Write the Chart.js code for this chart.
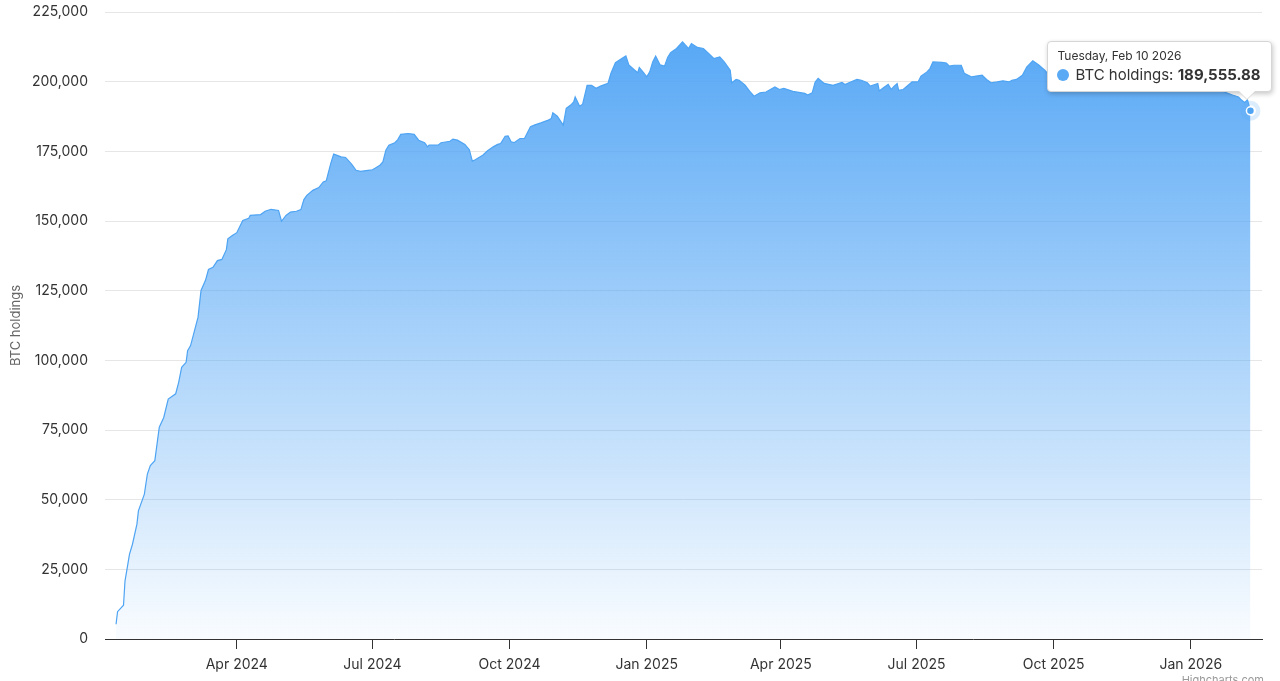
<!DOCTYPE html>
<html>
<head>
<meta charset="utf-8">
<script src="https://cdn.jsdelivr.net/npm/chart.js@4.4.1/dist/chart.umd.min.js"></script>
<style>
  html, body { margin: 0; padding: 0; background: #fff; }
  #wrap { position: relative; width: 1280px; height: 681px; overflow: hidden; }
  #tip {
    position: absolute; display: none; background: #fff; color: #333;
    border: 1px solid #d6d6d6; border-radius: 4px;
    box-shadow: 1px 2px 5px rgba(0,0,0,0.22);
    padding: 6px 10px 7px 9px; font-family: Inter, sans-serif; white-space: nowrap;
  }
  #tip .t { font-size: 12px; line-height: 16px; }
  #tip .b { font-size: 15px; line-height: 19px; margin-top: 1px; }
  #tip .dot { display: inline-block; width: 12px; height: 12px; border-radius: 50%;
    background: #5aa9f5; vertical-align: -1px; margin-right: 6px; }
  #tip::before { content: ''; position: absolute; right: 15px; bottom: -9px;
    border-left: 9px solid transparent; border-right: 9px solid transparent; border-top: 9px solid #d6d6d6; }
  #tip::after { content: ''; position: absolute; right: 16px; bottom: -8px;
    border-left: 8px solid transparent; border-right: 8px solid transparent; border-top: 8px solid #fff; }
  #credit { position: absolute; right: 16px; top: 673px; font: 11px Inter, sans-serif; color: #999; }
</style>
</head>
<body>
<div id="wrap">
  <canvas id="chart" width="1280" height="681"></canvas>
  <div id="tip"></div>
  <div id="credit">Highcharts.com</div>
</div>
<script>
// BTC holdings by date
const dates = [
  '2024-01-11','2024-01-12','2024-01-16','2024-01-17','2024-01-20','2024-01-22','2024-01-25','2024-01-26','2024-01-30',
  '2024-02-01','2024-02-03','2024-02-06','2024-02-09','2024-02-12','2024-02-15','2024-02-20','2024-02-22','2024-02-24','2024-02-27','2024-02-28',
  '2024-03-01','2024-03-06','2024-03-08','2024-03-11','2024-03-13','2024-03-16','2024-03-19','2024-03-22','2024-03-25','2024-03-26','2024-03-29',
  '2024-04-01','2024-04-05','2024-04-09','2024-04-10','2024-04-17','2024-04-20','2024-04-24','2024-04-29',
  '2024-05-01','2024-05-04','2024-05-07','2024-05-11','2024-05-14','2024-05-16','2024-05-18','2024-05-22','2024-05-26','2024-05-29','2024-05-31',
  '2024-06-03','2024-06-05','2024-06-10','2024-06-13','2024-06-17','2024-06-20','2024-06-23','2024-06-28',
  '2024-07-01','2024-07-03','2024-07-06','2024-07-08','2024-07-10','2024-07-12','2024-07-16','2024-07-18','2024-07-20','2024-07-25','2024-07-29',
  '2024-08-01','2024-08-05','2024-08-07','2024-08-08','2024-08-14','2024-08-16','2024-08-22','2024-08-24','2024-08-27',
  '2024-09-01','2024-09-04','2024-09-06','2024-09-08','2024-09-11','2024-09-13','2024-09-16','2024-09-20','2024-09-23','2024-09-25','2024-09-28','2024-09-30',
  '2024-10-02','2024-10-04','2024-10-08','2024-10-11','2024-10-15','2024-10-18','2024-10-22','2024-10-27','2024-10-29','2024-10-30',
  '2024-11-02','2024-11-06','2024-11-08','2024-11-11','2024-11-13','2024-11-14','2024-11-17','2024-11-19','2024-11-22','2024-11-25','2024-11-28',
  '2024-12-01','2024-12-06','2024-12-08','2024-12-11','2024-12-15','2024-12-18','2024-12-20','2024-12-24','2024-12-26','2024-12-27','2024-12-30',
  '2025-01-01','2025-01-03','2025-01-05','2025-01-07','2025-01-10','2025-01-13','2025-01-15','2025-01-17','2025-01-21','2025-01-25','2025-01-29','2025-01-31',
  '2025-02-04','2025-02-08','2025-02-11','2025-02-15','2025-02-19','2025-02-22','2025-02-26','2025-02-27',
  '2025-03-02','2025-03-04','2025-03-08','2025-03-11','2025-03-14','2025-03-18','2025-03-22','2025-03-28','2025-03-31',
  '2025-04-03','2025-04-09','2025-04-17','2025-04-19','2025-04-22','2025-04-24','2025-04-26','2025-04-30',
  '2025-05-06','2025-05-12','2025-05-14','2025-05-17','2025-05-22','2025-05-25','2025-05-29','2025-05-31',
  '2025-06-03','2025-06-05','2025-06-06','2025-06-09','2025-06-12','2025-06-14','2025-06-16','2025-06-18','2025-06-19','2025-06-22','2025-06-24','2025-06-28',
  '2025-07-02','2025-07-04','2025-07-08','2025-07-10','2025-07-12','2025-07-18','2025-07-21','2025-07-23','2025-07-26','2025-07-31',
  '2025-08-02','2025-08-07','2025-08-10','2025-08-14','2025-08-17','2025-08-20','2025-08-24','2025-08-28',
  '2025-09-01','2025-09-03','2025-09-06','2025-09-10','2025-09-13','2025-09-17','2025-09-21','2025-09-25','2025-09-29',
  '2025-10-04','2025-10-10','2025-10-17','2025-10-27','2025-11-06','2025-11-16','2025-11-26','2025-12-06','2025-12-16','2025-12-26',
  '2026-01-05','2026-01-15','2026-01-25','2026-01-29','2026-02-02','2026-02-04','2026-02-06','2026-02-08','2026-02-10'
];
const holdings = [
  5300, 9800, 12100, 20800, 30400, 34000, 41200, 46000, 52000,
  59200, 62200, 64000, 76000, 79500, 86100, 88000, 92100, 97500, 99300, 103500,
  105300, 115500, 125100, 128700, 132600, 133400, 135800, 136200, 139700, 143600, 144800,
  145800, 150200, 151000, 152000, 152300, 153500, 154200, 153800,
  149900, 152000, 153200, 153500, 154100, 157700, 159200, 161000, 162000, 164000, 164400,
  170600, 174000, 173000, 172800, 170400, 168200, 167800, 168200,
  168400, 169000, 170000, 171200, 175400, 177200, 178100, 179200, 181100, 181400, 181100,
  179000, 178100, 176600, 177200, 177200, 178100, 178600, 179400, 179000,
  177500, 175600, 171500, 172000, 173000, 173600, 175100, 176600, 177500, 177800, 180400, 180500,
  178400, 178100, 179600, 179600, 183800, 184500, 185200, 186200, 186800, 188800,
  187600, 184400, 190400, 191600, 192700, 194500, 191200, 191900, 198700, 198700, 197600,
  198400, 199400, 203000, 206800, 208200, 209200, 206000, 204100, 203200, 205100, 203200,
  201700, 203500, 207100, 209200, 206000, 205600, 208700, 210400, 211900, 214300, 211900, 213700,
  212300, 211900, 210400, 208300, 208900, 207100, 204100, 199600,
  200800, 200500, 198700, 196600, 194800, 196000, 196300, 198100, 197200,
  197600, 196500, 195800, 195200, 196000, 199900, 201200, 199400,
  198700, 199700, 199000, 199700, 200800, 200500, 199600, 198400,
  199000, 199300, 196700, 197900, 199000, 197200, 198400, 199300, 196900, 197200, 198100, 199900,
  199900, 202000, 203500, 204700, 207100, 206900, 206700, 205600, 205900, 205900,
  203000, 201700, 202000, 202300, 200800, 199600, 199900, 200300,
  199900, 200500, 200800, 202300, 205300, 207500, 206000, 204100, 201700,
  203000, 205000, 202000, 203500, 200500, 198500, 197500, 198500, 197500, 198000,
  199000, 198000, 196000, 195200, 194500, 193400, 192500, 193500, 189555.88
];

const xTicks = ['2024-04-01', '2024-07-01', '2024-10-01', '2025-01-01', '2025-04-01', '2025-07-01', '2025-10-01', '2026-01-01'];
const xTickLabels = ['Apr 2024', 'Jul 2024', 'Oct 2024', 'Jan 2025', 'Apr 2025', 'Jul 2025', 'Oct 2025', 'Jan 2026'];
const yTicks = [0, 25000, 50000, 75000, 100000, 125000, 150000, 175000, 200000, 225000];

const points = dates.map((d, i) => ({ x: Date.parse(d), y: holdings[i] }));
const lastIndex = points.length - 1;

const months = ['Jan','Feb','Mar','Apr','May','Jun','Jul','Aug','Sep','Oct','Nov','Dec'];
const days = ['Sunday','Monday','Tuesday','Wednesday','Thursday','Friday','Saturday'];
function longDate(ms) {
  const d = new Date(ms);
  return days[d.getUTCDay()] + ', ' + months[d.getUTCMonth()] + ' ' + d.getUTCDate() + ' ' + d.getUTCFullYear();
}

Chart.defaults.font.family = 'Inter, sans-serif';

// light halo round the hovered point
const haloPlugin = {
  id: 'halo',
  afterDatasetsDraw(chart) {
    const active = chart.getActiveElements();
    if (!active.length) return;
    const el = active[0].element;
    const ctx = chart.ctx;
    ctx.save();
    ctx.beginPath();
    ctx.arc(el.x, el.y, 10, 0, Math.PI * 2);
    ctx.arc(el.x, el.y, 5.5, 0, Math.PI * 2, true);
    ctx.fillStyle = 'rgba(90,169,245,0.22)';
    ctx.fill();
    ctx.restore();
  }
};

const chart = new Chart(document.getElementById('chart'), {
  type: 'line',
  data: {
    datasets: [{
      label: 'BTC holdings',
      data: points,
      borderColor: '#4ea4f3',
      borderWidth: 1.2,
      tension: 0,
      fill: 'start',
      backgroundColor: (ctx) => {
        const a = ctx.chart.chartArea;
        if (!a) return 'rgba(80,164,245,0.5)';
        const g = ctx.chart.ctx.createLinearGradient(0, a.top, 0, a.bottom);
        g.addColorStop(0, 'rgba(80,164,245,1)');
        g.addColorStop(1, 'rgba(80,164,245,0.03)');
        return g;
      },
      pointRadius: 0,
      pointHoverRadius: 4,
      pointHoverBackgroundColor: '#4ea4f3',
      pointHoverBorderColor: '#fff',
      pointHoverBorderWidth: 1.5
    }]
  },
  options: {
    responsive: false,
    animation: false,
    events: [],
    layout: { padding: { left: 0, right: 18, top: 12, bottom: 0 } },
    plugins: {
      legend: { display: false },
      tooltip: {
        enabled: false,
        external: (context) => {
          const tip = document.getElementById('tip');
          const t = context.tooltip;
          if (t.opacity === 0 || !t.dataPoints || !t.dataPoints.length) { tip.style.display = 'none'; return; }
          const dp = t.dataPoints[0];
          const val = dp.parsed.y.toLocaleString('en-US', { minimumFractionDigits: 2, maximumFractionDigits: 2 });
          tip.innerHTML = '<div class="t">' + longDate(dp.parsed.x) + '</div>' +
            '<div class="b"><span class="dot"></span>' + dp.dataset.label + ': <b>' + val + '</b></div>';
          tip.style.display = 'block';
          tip.style.left = (t.caretX + 21 - tip.offsetWidth) + 'px';
          tip.style.top = (t.caretY - 19 - tip.offsetHeight) + 'px';
        }
      }
    },
    scales: {
      x: {
        type: 'linear',
        min: Date.UTC(2024, 0, 3, 14),
        max: Date.UTC(2026, 1, 17, 18),
        afterBuildTicks: (scale) => { scale.ticks = xTicks.map(d => ({ value: Date.parse(d) })); },
        afterFit: (scale) => { scale.height = 42; },
        ticks: {
          autoSkip: false, maxRotation: 0, padding: 7,
          color: '#333', font: { size: 14 },
          callback: (v, i) => xTickLabels[i]
        },
        grid: { drawOnChartArea: false, drawTicks: true, tickLength: 10, color: '#333' },
        border: { display: true, color: '#333', width: 1 }
      },
      y: {
        min: 0,
        max: 225000,
        afterBuildTicks: (scale) => { scale.ticks = yTicks.map(v => ({ value: v })); },
        afterFit: (scale) => { scale.width = 105; },
        ticks: {
          padding: 0, color: '#333', font: { size: 14 },
          callback: (v) => v.toLocaleString('en-US')
        },
        // invisible tick marks keep the labels 17px off the plot
        grid: { color: '#e6e6e6', drawTicks: true, tickLength: 17, tickColor: 'rgba(0,0,0,0)' },
        border: { display: false },
        title: { display: true, text: 'BTC holdings', color: '#666', font: { size: 13 }, padding: { top: 8, bottom: 0 } }
      }
    }
  },
  plugins: [haloPlugin]
});

chart.setActiveElements([{ datasetIndex: 0, index: lastIndex }]);
const el = chart.getDatasetMeta(0).data[lastIndex];
chart.tooltip.setActiveElements([{ datasetIndex: 0, index: lastIndex }], { x: el.x, y: el.y });
chart.update();
</script>
</body>
</html>
